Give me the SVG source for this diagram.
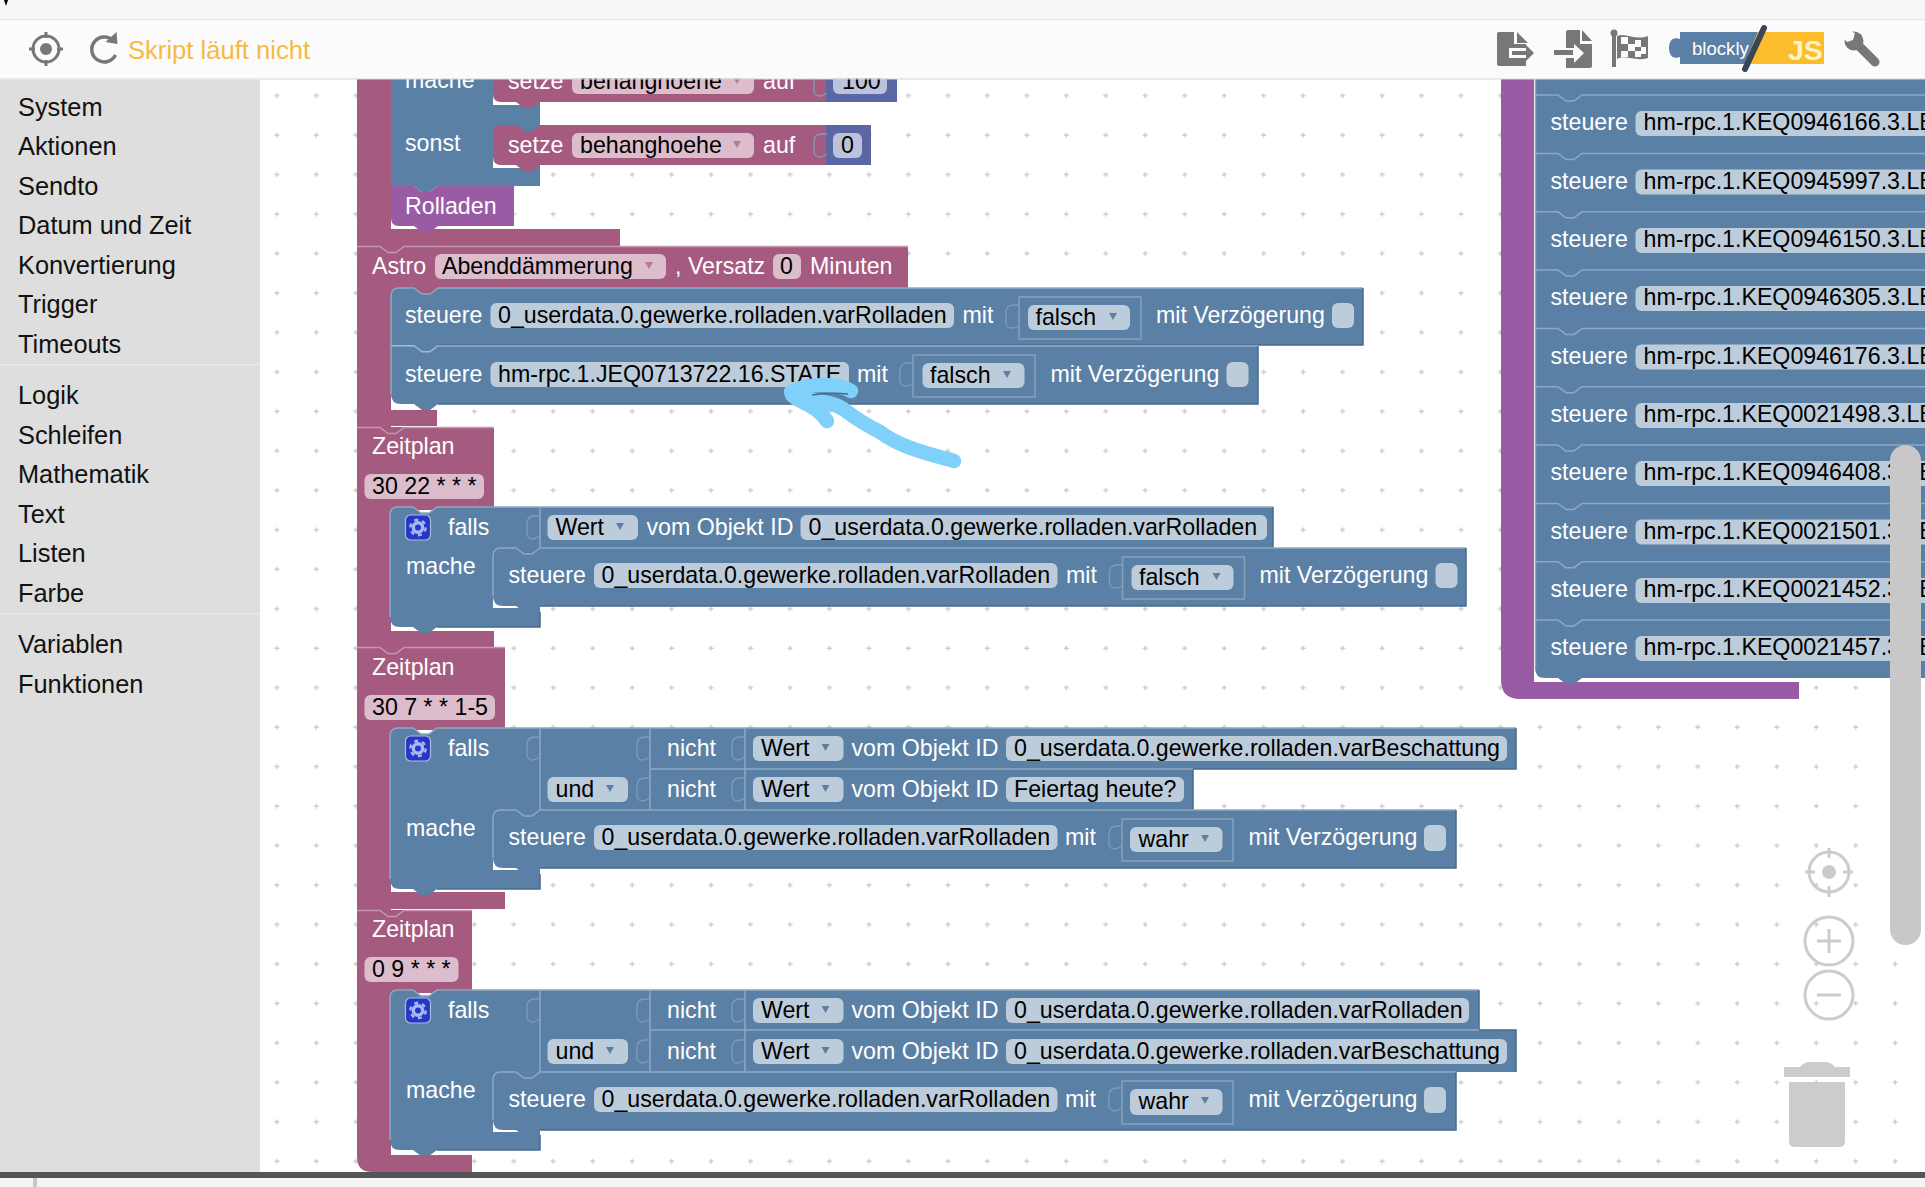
<svg xmlns="http://www.w3.org/2000/svg" width="1925" height="1187" viewBox="0 0 1925 1187">
<style>
text{font-family:"Liberation Sans",Arial,sans-serif;font-size:23.2px;transform:translateY(-.1px)}
.w{fill:#fff}.k{fill:#000}
.fb{fill:#bdccdb}.fm{fill:#dbbdcc}
.b{fill:#5b80a5}.m{fill:#a55b80}.p{fill:#9a5ba5}.v{fill:#5b67a5}
.hb{fill:none;stroke:#8fa8c1;stroke-width:1.5}
.db{fill:none;stroke:#486a8c;stroke-width:1.5}
.hm{fill:none;stroke:#c596ae;stroke-width:1.5}
text.side{font-size:25.35px;fill:#111;transform:none}
.ic{fill:#777}
.ctl{fill:none;stroke:#ccc;stroke-width:3}
</style>
<defs>
<pattern id="grid" patternUnits="userSpaceOnUse" x="1441" y="75.7" width="39.47" height="39.47">
<path d="M17.5,20H22.5M20,17.5V22.5" stroke="#ccc" stroke-width="1.4"/>
</pattern>
<path id="sock" d="M0,9H-5C-10,9-13,12-13,17V27C-13,30-10,32-8,32C-5,32-3,31 0,29" fill="none" stroke="#7f9cb9" stroke-width="1.3"/>
<path id="ab" d="M-4,-4H4L0,3Z" fill="#5b80a5"/>
<path id="am" d="M-4,-4H4L0,3Z" fill="#b9779a"/>
<g id="gear">
<rect x="0" y="0" width="25" height="25" rx="5" fill="#2536c8" stroke="#a9bbd8" stroke-width="1.2"/>
<circle cx="12.5" cy="12.5" r="4.7" fill="none" stroke="#a9b8f0" stroke-width="3.4"/>
<circle cx="12.5" cy="12.5" r="7.7" fill="none" stroke="#a9b8f0" stroke-width="2.4" stroke-dasharray="4 4.06"/>
</g>
<g id="sub">
<rect x="0" y="0" width="122" height="42" fill="#5b80a5" stroke="#86a1bd" stroke-width="1.5"/>
<path d="M0,8H-5C-10,8-13,11-13,15V26C-13,29-10,31-8,31C-5,31-3,31 0,29" fill="none" stroke="#7f9cb9" stroke-width="1.3"/>
</g>
</defs>

<rect id="canvas" x="0" y="0" width="1925" height="1187" fill="#fff"/>
<rect id="gridlayer" x="260" y="79" width="1665" height="1093" fill="url(#grid)"/>

<g id="connectors"></g>

<g id="stack-left">
<path id="strip" class="m" d="M357,79H391V1172H372Q357,1172 357,1157Z"/>
<rect x="391" y="1155" width="81" height="17" class="m"/>
<rect x="391" y="892" width="114" height="17" class="m"/>
<rect x="391" y="631" width="103" height="16" class="m"/>
<rect x="391" y="410" width="46" height="16" class="m"/>
<rect x="391" y="229" width="229" height="17" class="m"/>
</g>

<g id="node-rolladen-if">
<path class="b" d="M391,79H540V186H438l-8,6h-8l-8,-6H391Z"/>
<text x="405" y="88" class="w">mache</text>
<text x="405" y="151" class="w">sonst</text>
<rect x="493" y="94" width="28" height="11" fill="#fff"/>
<rect x="493" y="157" width="28" height="11" fill="#fff"/>
<rect x="392" y="218" width="30" height="11" fill="#fff"/>
</g>
<g id="node-setze-100">
<path class="m" d="M493,79H826V102H540l-8,6h-8l-8,-6H501Q493,102 493,94Z"/>
<path class="v" d="M826,79H897V102H826Z"/>
<use href="#sock" transform="translate(827,64)"/>
<rect x="572" y="69" width="182" height="25" rx="6" class="fm"/>
<rect x="833" y="69" width="54" height="25" rx="6" fill="#bdc2db"/>
<text x="508" y="89" class="w">setze</text><text x="580" y="89" class="k">behanghoehe</text><use href="#am" x="737" y="81"/>
<text x="763" y="89" class="w">auf</text><text x="842" y="89" class="k">100</text>
</g>
<g id="node-setze-0">
<path class="m" d="M493,133Q493,125 501,125H516l8,6h8l8,-6H826V165H540l-8,6h-8l-8,-6H501Q493,165 493,157Z"/>
<path class="v" d="M826,125H871V165H826Z"/>
<use href="#sock" transform="translate(827,125)"/>
<rect x="572" y="133" width="182" height="25" rx="6" class="fm"/>
<rect x="833" y="133" width="29" height="25" rx="6" fill="#bdc2db"/>
<text x="508" y="153" class="w">setze</text><text x="580" y="153" class="k">behanghoehe</text><use href="#am" x="737" y="145"/>
<text x="763" y="153" class="w">auf</text><text x="841" y="153" class="k">0</text>
</g>
<g id="node-rolladen-comment">
<path class="p" d="M391,186H414l8,6h8l8,-6H514V226H438l-8,6h-8l-8,-6H399Q391,226 391,218Z"/>
<text x="405" y="214" class="w">Rolladen</text>
</g>

<g id="node-astro">
<path class="m" d="M357,246H908V288H440V296H391V300H357Z"/>
<path class="hm" d="M357,246.500H380l8,6h8l8,-6H908"/>
<rect x="435" y="254" width="231" height="25" rx="6" class="fm"/>
<rect x="773" y="254" width="28" height="25" rx="6" class="fm"/>
<text x="372" y="274" class="w">Astro</text><text x="442" y="274" class="k">Abenddämmerung</text><use href="#am" x="649" y="266"/>
<text x="675" y="274" class="w">, Versatz</text><text x="780" y="274" class="k">0</text><text x="810" y="274" class="w">Minuten</text>
</g>
<g id="node-steuere-rolladen-1">
<path class="b" d="M391,296Q391,288 399,288H414l8,6h8l8,-6H1363V345H438l-8,6h-8l-8,-6H391Z"/>
<path class="hb" d="M391,345V296Q391,288 399,288H414l8,6h8l8,-6H1363"/>
<path class="db" d="M1363,288V345H438"/>
<rect x="490.500" y="303" width="463.500" height="25" rx="6" class="fb"/>
<text x="405" y="323" class="w">steuere</text><text x="498" y="323" class="k">0_userdata.0.gewerke.rolladen.varRolladen</text>
<text x="962.500" y="323" class="w">mit</text>
<use href="#sub" x="1019" y="297"/>
<rect x="1028" y="305" width="102" height="25" rx="6" class="fb"/><text x="1035.500" y="325" class="k">falsch</text><use href="#ab" x="1113" y="317"/>
<text x="1156" y="323" class="w">mit Verzögerung</text>
<rect x="1332" y="303" width="22" height="25" rx="6" class="fb"/>
</g>
<g id="node-steuere-state">
<path class="b" d="M391,346H414l8,6h8l8,-6H1258V404H438l-8,6h-8l-8,-6H401Q391,404 391,394Z"/>
<path class="hb" d="M391,394V346H414l8,6h8l8,-6H1258"/>
<path class="db" d="M1258,346V404H438"/>
<rect x="490.500" y="362" width="358.500" height="25" rx="6" class="fb"/>
<text x="405" y="382" class="w">steuere</text><text x="498" y="382" class="k">hm-rpc.1.JEQ0713722.16.STATE</text>
<text x="857" y="382" class="w">mit</text>
<use href="#sub" x="913" y="355"/>
<rect x="922.500" y="363" width="102" height="25" rx="6" class="fb"/><text x="930" y="383" class="k">falsch</text><use href="#ab" x="1007" y="375"/>
<text x="1050.500" y="382" class="w">mit Verzögerung</text>
<rect x="1226.500" y="362" width="22" height="25" rx="6" class="fb"/>
</g>

<g id="node-zeitplan-1">
<path class="m" d="M357,427H494V510H391V440H357Z"/>
<path class="hm" d="M357,427.500H380l8,6h8l8,-6H494"/>
<rect x="364.500" y="474" width="119.500" height="25" rx="6" class="fm"/>
<text x="372" y="454" class="w">Zeitplan</text><text x="372" y="494" class="k">30 22 * * *</text>
</g>
<g id="node-falls-1">
<rect x="391" y="620" width="103" height="11" fill="#fff"/>
<path class="b" d="M390,515Q390,507 398,507H413l8,6h8l8,-6H1273V548H540V627H437l-8,6h-8l-8,-6H400Q390,627 390,617Z"/>
<path class="hb" d="M390,617V515Q390,507 398,507H413l8,6h8l8,-6H1273"/>
<path class="db" d="M1273,507V548M540,612V627H437"/>
<path class="hb" d="M540,507V548"/>
<use href="#sock" transform="translate(540,507)"/>
<use href="#gear" x="405.500" y="515"/>
<text x="448" y="535" class="w">falls</text><text x="406" y="574" class="w">mache</text>
<rect x="547.500" y="515" width="90.500" height="25" rx="6" class="fb"/><text x="555.500" y="535" class="k">Wert</text><use href="#ab" x="620" y="527"/>
<text x="646.500" y="535" class="w">vom Objekt ID</text>
<rect x="800.500" y="515" width="466.500" height="25" rx="6" class="fb"/><text x="808.500" y="535" class="k">0_userdata.0.gewerke.rolladen.varRolladen</text>
</g>
<g id="node-steuere-rolladen-2">
<rect x="493" y="597" width="28" height="11" fill="#fff"/>
<path class="b" d="M493,556Q493,548 501,548H516l8,6h8l8,-6H1466V606H540l-8,6h-8l-8,-6H503Q493,606 493,596Z"/>
<path class="hb" d="M493,596V556Q493,548 501,548H516l8,6h8l8,-6H1466"/>
<path class="db" d="M1466,548V606H540"/>
<rect x="594" y="563" width="463.500" height="25" rx="6" class="fb"/>
<text x="508.500" y="583" class="w">steuere</text><text x="601.500" y="583" class="k">0_userdata.0.gewerke.rolladen.varRolladen</text>
<text x="1066" y="583" class="w">mit</text>
<use href="#sub" x="1122.500" y="557"/>
<rect x="1131.500" y="565" width="102" height="25" rx="6" class="fb"/><text x="1139" y="585" class="k">falsch</text><use href="#ab" x="1216.500" y="577"/>
<text x="1259.500" y="583" class="w">mit Verzögerung</text>
<rect x="1435.500" y="563" width="22" height="25" rx="6" class="fb"/>
</g>

<g id="node-zeitplan-2">
<path class="m" d="M357,647H505V730H391V660H357Z"/>
<path class="hm" d="M357,647.500H380l8,6h8l8,-6H505"/>
<rect x="364.500" y="695" width="130.500" height="25" rx="6" class="fm"/>
<text x="372" y="675" class="w">Zeitplan</text><text x="372" y="715" class="k">30 7 * * 1-5</text>
</g>
<g id="node-falls-2">
<rect x="391" y="881" width="114" height="11" fill="#fff"/>
<path class="b" d="M390,736Q390,728 398,728H413l8,6h8l8,-6H1516V769H1193V810H540V889H437l-8,6h-8l-8,-6H400Q390,889 390,879Z"/>
<path class="hb" d="M390,879V736Q390,728 398,728H413l8,6h8l8,-6H1516"/>
<path class="db" d="M1516,728V769H1193V810M540,874V889H437"/>
<path class="hb" d="M540,728V810M650,728V810M745,728V810M650,769H1193"/>
<use href="#sock" transform="translate(540,728)"/>
<use href="#sock" transform="translate(650,728)"/><use href="#sock" transform="translate(745,728)"/>
<use href="#sock" transform="translate(650,769)"/><use href="#sock" transform="translate(745,769)"/>
<use href="#gear" x="405.500" y="736"/>
<text x="448" y="756" class="w">falls</text><text x="406" y="836" class="w">mache</text>
<text x="667" y="756" class="w">nicht</text>
<rect x="753" y="736" width="90.500" height="25" rx="6" class="fb"/><text x="761" y="756" class="k">Wert</text><use href="#ab" x="825.500" y="748"/>
<text x="851.500" y="756" class="w">vom Objekt ID</text>
<rect x="1006" y="736" width="501" height="25" rx="6" class="fb"/><text x="1014" y="756" class="k">0_userdata.0.gewerke.rolladen.varBeschattung</text>
<rect x="547.500" y="777" width="80.500" height="25" rx="6" class="fb"/><text x="555.500" y="797" class="k">und</text><use href="#ab" x="610" y="789"/>
<text x="667" y="797" class="w">nicht</text>
<rect x="753" y="777" width="90.500" height="25" rx="6" class="fb"/><text x="761" y="797" class="k">Wert</text><use href="#ab" x="825.500" y="789"/>
<text x="851.500" y="797" class="w">vom Objekt ID</text>
<rect x="1006" y="777" width="178" height="25" rx="6" class="fb"/><text x="1014" y="797" class="k">Feiertag heute?</text>
</g>
<g id="node-steuere-rolladen-3">
<rect x="493" y="859" width="28" height="11" fill="#fff"/>
<path class="b" d="M493,818Q493,810 501,810H516l8,6h8l8,-6H1456V868H540l-8,6h-8l-8,-6H503Q493,868 493,858Z"/>
<path class="hb" d="M493,858V818Q493,810 501,810H516l8,6h8l8,-6H1456"/>
<path class="db" d="M1456,810V868H540"/>
<rect x="594" y="825" width="463.500" height="25" rx="6" class="fb"/>
<text x="508.500" y="845" class="w">steuere</text><text x="601.500" y="845" class="k">0_userdata.0.gewerke.rolladen.varRolladen</text>
<text x="1065" y="845" class="w">mit</text>
<rect x="1122" y="819" width="111" height="42" fill="#5b80a5" stroke="#86a1bd" stroke-width="1.5"/><use href="#sock" transform="translate(1122,817)"/>
<rect x="1130" y="827" width="92.500" height="25" rx="6" class="fb"/><text x="1138.500" y="847" class="k">wahr</text><use href="#ab" x="1205" y="839"/>
<text x="1248.500" y="845" class="w">mit Verzögerung</text>
<rect x="1424" y="825" width="22" height="26" rx="6" class="fb"/>
</g>

<g id="node-zeitplan-3">
<path class="m" d="M357,910H472V993H391V923H357Z"/>
<path class="hm" d="M357,910.500H380l8,6h8l8,-6H472"/>
<rect x="364.500" y="957" width="94" height="25" rx="6" class="fm"/>
<text x="372" y="937" class="w">Zeitplan</text><text x="372" y="977" class="k">0 9 * * *</text>
</g>
<g id="node-falls-3">
<rect x="391" y="1143" width="81" height="12" fill="#fff"/>
<path class="b" d="M390,998Q390,990 398,990H413l8,6h8l8,-6H1479V1030H1516V1072H540V1150H437l-8,6h-8l-8,-6H400Q390,1150 390,1140Z"/>
<path class="hb" d="M390,1140V998Q390,990 398,990H413l8,6h8l8,-6H1479"/>
<path class="db" d="M1479,990V1030H1516V1072M540,1135V1150H437"/>
<path class="hb" d="M540,990V1072M650,990V1072M745,990V1072M650,1030H1479"/>
<use href="#sock" transform="translate(540,990)"/>
<use href="#sock" transform="translate(650,990)"/><use href="#sock" transform="translate(745,990)"/>
<use href="#sock" transform="translate(650,1031)"/><use href="#sock" transform="translate(745,1031)"/>
<use href="#gear" x="405.500" y="998"/>
<text x="448" y="1018" class="w">falls</text><text x="406" y="1098" class="w">mache</text>
<text x="667" y="1018" class="w">nicht</text>
<rect x="753" y="998" width="90.500" height="25" rx="6" class="fb"/><text x="761" y="1018" class="k">Wert</text><use href="#ab" x="825.500" y="1010"/>
<text x="851.500" y="1018" class="w">vom Objekt ID</text>
<rect x="1006" y="998" width="463" height="25" rx="6" class="fb"/><text x="1014" y="1018" class="k">0_userdata.0.gewerke.rolladen.varRolladen</text>
<rect x="547.500" y="1039" width="80.500" height="25" rx="6" class="fb"/><text x="555.500" y="1059" class="k">und</text><use href="#ab" x="610" y="1051"/>
<text x="667" y="1059" class="w">nicht</text>
<rect x="753" y="1039" width="90.500" height="25" rx="6" class="fb"/><text x="761" y="1059" class="k">Wert</text><use href="#ab" x="825.500" y="1051"/>
<text x="851.500" y="1059" class="w">vom Objekt ID</text>
<rect x="1006" y="1039" width="501" height="25" rx="6" class="fb"/><text x="1014" y="1059" class="k">0_userdata.0.gewerke.rolladen.varBeschattung</text>
</g>
<g id="node-steuere-rolladen-4">
<rect x="493" y="1121" width="28" height="11" fill="#fff"/>
<path class="b" d="M493,1080Q493,1072 501,1072H516l8,6h8l8,-6H1456V1130H540l-8,6h-8l-8,-6H503Q493,1130 493,1120Z"/>
<path class="hb" d="M493,1120V1080Q493,1072 501,1072H516l8,6h8l8,-6H1456"/>
<path class="db" d="M1456,1072V1130H540"/>
<rect x="594" y="1087" width="463.500" height="25" rx="6" class="fb"/>
<text x="508.500" y="1107" class="w">steuere</text><text x="601.500" y="1107" class="k">0_userdata.0.gewerke.rolladen.varRolladen</text>
<text x="1065" y="1107" class="w">mit</text>
<rect x="1122" y="1081" width="111" height="43" fill="#5b80a5" stroke="#86a1bd" stroke-width="1.5"/><use href="#sock" transform="translate(1122,1079)"/>
<rect x="1130" y="1089" width="92.500" height="26" rx="6" class="fb"/><text x="1138.500" y="1109" class="k">wahr</text><use href="#ab" x="1205" y="1101"/>
<text x="1248.500" y="1107" class="w">mit Verzögerung</text>
<rect x="1424" y="1087" width="22" height="26" rx="6" class="fb"/>
</g>

<g id="node-right-stack">
<path class="p" d="M1501,79H1534V682H1799V699H1520Q1501,699 1501,680Z"/>
<rect x="1534" y="672" width="30" height="10" fill="#fff"/>
<path class="b" d="M1535,79H1925V678H1582l-8,6h-8l-8,-6H1545Q1535,678 1535,668Z"/>
<path class="hb" d="M1535.500,79V668M1535,95H1558l8,6h8l8,-6H1925M1535,153.500H1558l8,6h8l8,-6H1925M1535,211.800H1558l8,6h8l8,-6H1925M1535,270H1558l8,6h8l8,-6H1925M1535,328.400H1558l8,6h8l8,-6H1925M1535,386.700H1558l8,6h8l8,-6H1925M1535,445H1558l8,6h8l8,-6H1925M1535,503.400H1558l8,6h8l8,-6H1925M1535,561.700H1558l8,6h8l8,-6H1925M1535,620H1558l8,6h8l8,-6H1925"/>
<g class="fb">
<rect x="1635.500" y="111" width="300" height="25" rx="6"/><rect x="1635.500" y="169.500" width="300" height="25" rx="6"/><rect x="1635.500" y="228" width="300" height="25" rx="6"/><rect x="1635.500" y="286" width="300" height="25" rx="6"/><rect x="1635.500" y="344.500" width="300" height="25" rx="6"/><rect x="1635.500" y="403" width="300" height="25" rx="6"/><rect x="1635.500" y="461" width="300" height="25" rx="6"/><rect x="1635.500" y="519.500" width="300" height="25" rx="6"/><rect x="1635.500" y="578" width="300" height="25" rx="6"/><rect x="1635.500" y="636" width="300" height="25" rx="6"/>
</g>
<g class="w">
<text x="1550.500" y="130.500">steuere</text><text x="1550.500" y="189">steuere</text><text x="1550.500" y="247.500">steuere</text><text x="1550.500" y="305.500">steuere</text><text x="1550.500" y="364">steuere</text><text x="1550.500" y="422.500">steuere</text><text x="1550.500" y="480.500">steuere</text><text x="1550.500" y="539">steuere</text><text x="1550.500" y="597.500">steuere</text><text x="1550.500" y="655.500">steuere</text>
</g>
<g class="k">
<text x="1643.500" y="130.500">hm-rpc.1.KEQ0946166.3.LE</text><text x="1643.500" y="189">hm-rpc.1.KEQ0945997.3.LE</text><text x="1643.500" y="247.500">hm-rpc.1.KEQ0946150.3.LE</text><text x="1643.500" y="305.500">hm-rpc.1.KEQ0946305.3.LE</text><text x="1643.500" y="364">hm-rpc.1.KEQ0946176.3.LE</text><text x="1643.500" y="422.500">hm-rpc.1.KEQ0021498.3.LE</text><text x="1643.500" y="480.500">hm-rpc.1.KEQ0946408.3.LE</text><text x="1643.500" y="539">hm-rpc.1.KEQ0021501.3.LE</text><text x="1643.500" y="597.500">hm-rpc.1.KEQ0021452.3.LE</text><text x="1643.500" y="655.500">hm-rpc.1.KEQ0021457.3.LE</text>
</g>
</g>

<path id="scribble" fill="none" stroke="#7fd0fb" stroke-width="14.500" stroke-linecap="round" stroke-linejoin="round" d="M791,392C805,384 835,382 851,391M792,395C802,404 815,404 827,421M800,398C820,402 835,402 846,411C858,420 868,426 880,432C900,447 925,453 954,461"/>
<path d="M812,395C825,393 838,393 848,394" fill="none" stroke="#4a6c8c" stroke-width="1.500"/>

<g id="toolbar">
<rect x="0" y="0" width="1925" height="19" fill="#f6f6f6"/>
<rect x="0" y="19" width="1925" height="1.500" fill="#e6e6e6"/>
<rect x="0" y="20.500" width="1925" height="58" fill="#fbfbfb"/>
<rect x="0" y="78.500" width="1925" height="1" fill="#d8d8d8"/>
<path d="M4,0L8,0L6,6Z" fill="#000"/>
<g id="icon-target" fill="none" stroke="#777" stroke-width="3">
<circle cx="46" cy="49" r="13"/><path d="M46,32V38M46,60V66M29,49H35M57,49H63"/><circle cx="46" cy="49" r="6" fill="#777" stroke="none"/>
</g>
<g id="icon-refresh" transform="translate(1.500,0)"><path d="M112,41A12.500,12.500 0 1 0 114,55" fill="none" stroke="#777" stroke-width="3.500"/><path class="ic" d="M104,42L116,44L115,32Z"/></g>
<text x="128" y="59" style="font-size:25.600px" fill="#f6bb42">Skript läuft nicht</text>
<g id="icon-export" class="ic"><path d="M1497,34Q1497,32 1499,32H1514V44H1526V48H1509V58H1526V66H1499Q1497,66 1497,64ZM1517,32L1528,43H1517Z"/><path d="M1512,51H1526V45L1534,53L1526,61V55H1512Z"/></g>
<g id="icon-import" class="ic"><path d="M1566,32Q1566,30 1568,30H1580V44H1592V66Q1592,68 1590,68H1566V58H1574V63L1584,53L1574,44V48H1566ZM1582,30L1592,41H1582Z"/><rect x="1554" y="50" width="19" height="5"/></g>
<g id="icon-flag"><rect x="1612" y="33" width="4" height="34" fill="#777"/><circle cx="1614" cy="33" r="3.500" fill="#777"/><path d="M1617,36C1625,32 1635,41 1648,36V58C1635,62 1625,54 1617,59Z" fill="#777"/><path fill="#fbfbfb" d="M1621,37h7v7h-7zM1635,40h6v7h-6zM1628,44h7v7h-7zM1621,51h7v6h-7zM1641,47h5v7h-5zM1635,51h6v6h-6z"/></g>
<g id="logo">
<path d="M1680,32H1758L1745,64H1680V57C1672,60 1669,54 1669,48C1669,42 1672,36 1680,39Z" fill="#5b80a5"/>
<path d="M1758,32H1824V64H1745Z" fill="#fcbd2c"/>
<path d="M1764,28L1745,69" stroke="#3a4652" stroke-width="6" stroke-linecap="round"/>
<text x="1692" y="55" style="font-size:18.600px" fill="#fff">blockly</text>
<text x="1788" y="60" style="font-size:28.500px;font-weight:bold" fill="#fff2c8">JS</text>
</g>
<g id="icon-wrench"><path d="M1856,43L1875,62" stroke="#777" stroke-width="9" stroke-linecap="round"/><circle cx="1854" cy="41" r="9.500" fill="#777"/><path d="M1845,29L1855,33L1853,40L1847,42L1841,36Z" fill="#fbfbfb"/></g>
</g>

<g id="sidebar">
<rect x="0" y="79.500" width="260" height="1093" fill="#dedede"/>
<rect x="0" y="364" width="260" height="1.500" fill="#e8e8e8"/><rect x="0" y="613" width="260" height="1.500" fill="#e8e8e8"/>
<text x="18" y="116" class="side">System</text>
<text x="18" y="155" class="side">Aktionen</text>
<text x="18" y="195" class="side">Sendto</text>
<text x="18" y="234" class="side">Datum und Zeit</text>
<text x="18" y="274" class="side">Konvertierung</text>
<text x="18" y="313" class="side">Trigger</text>
<text x="18" y="353" class="side">Timeouts</text>
<text x="18" y="404" class="side">Logik</text>
<text x="18" y="444" class="side">Schleifen</text>
<text x="18" y="483" class="side">Mathematik</text>
<text x="18" y="523" class="side">Text</text>
<text x="18" y="562" class="side">Listen</text>
<text x="18" y="602" class="side">Farbe</text>
<text x="18" y="653" class="side">Variablen</text>
<text x="18" y="693" class="side">Funktionen</text>
</g>

<g id="controls">
<rect x="1890" y="445" width="31" height="500" rx="15.500" fill="#c8c8c8"/>
<circle cx="1829" cy="872" r="20" class="ctl"/><circle cx="1829" cy="872" r="7" fill="#ccc"/>
<path class="ctl" d="M1829,848V858M1829,886V897M1805,872H1815M1843,872H1853"/>
<circle cx="1829" cy="941" r="24" class="ctl"/><path class="ctl" d="M1817,941H1841M1829,929V953"/>
<circle cx="1829" cy="995" r="24" class="ctl"/><path class="ctl" d="M1817,995H1841"/>
<path d="M1784,1067H1800Q1804,1062 1810,1062H1825Q1831,1062 1835,1067H1850V1077H1784Z" fill="#ccc"/>
<path d="M1789,1082H1845V1141Q1845,1147 1839,1147H1795Q1789,1147 1789,1141Z" fill="#ccc"/>
</g>

<g id="bottom">
<rect x="0" y="1172" width="1925" height="6" fill="#555"/>
<rect x="0" y="1178" width="1925" height="9" fill="#f5f5f5"/>
<rect x="33" y="1178" width="4" height="9" fill="#c8c8c8"/>
</g>
</svg>
